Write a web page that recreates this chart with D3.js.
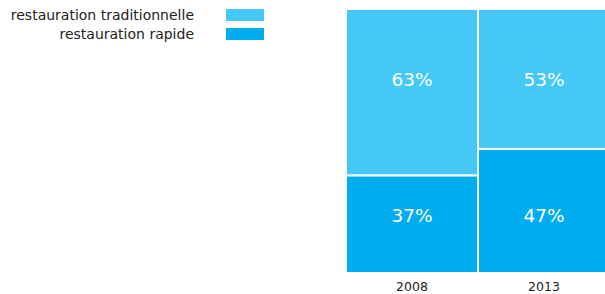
<!DOCTYPE html>
<html>
<head>
<meta charset="utf-8">
<script src="https://cdn.jsdelivr.net/npm/d3@7"></script>
<style>
  body { margin: 0; background: #fff; overflow: hidden; }
  svg { display: block; font-family: "DejaVu Sans", Verdana, sans-serif; }
</style>
</head>
<body>
<svg id="vis" width="605" height="294"></svg>
<script>
const years = ["2008", "2013"];
const seriesNames = ["restauration traditionnelle", "restauration rapide"];
const traditionnelle = [63, 53];
const rapide = [37, 47];
const colors = ["#45c8f5", "#00adef"];

const svg = d3.select("#vis");
const margin = {top: 9, bottom: 21, left: 346};
const W = 605, H = 294;

// the right bar runs past the window edge in the reference; the white stroke makes the gap
const x = d3.scaleBand().domain(years).range([margin.left, 610]).paddingInner(0);
const y = d3.scaleLinear().domain([0, 100]).range([H - margin.bottom, margin.top]);

// stack: rapide at bottom, traditionnelle on top
const rows = years.map((yr, i) => ({year: yr, rapide: rapide[i], traditionnelle: traditionnelle[i]}));
const stack = d3.stack().keys(["rapide", "traditionnelle"])(rows);
const colorOf = {rapide: colors[1], traditionnelle: colors[0]};
// labels sit at one height per series, in value units
const labelAt = {rapide: 22, traditionnelle: 73.3};

stack.forEach(layer => {
  const g = svg.append("g");
  g.selectAll("rect").data(layer).join("rect")
    .attr("x", d => x(d.data.year))
    .attr("width", x.bandwidth())
    .attr("y", d => y(d[1]))
    .attr("height", d => y(d[0]) - y(d[1]))
    .attr("fill", colorOf[layer.key])
    .attr("stroke", "#fff")
    .attr("stroke-width", 2);
  g.selectAll("text").data(layer).join("text")
    .attr("x", d => x(d.data.year) + x.bandwidth() / 2)
    .attr("y", y(labelAt[layer.key]))
    .attr("dy", "0.36em")
    .attr("text-anchor", "middle")
    .attr("fill", "#fff")
    .attr("font-size", 18.5)
    .text(d => d.data[layer.key] + "%");
});

// year labels
const xAxis = svg.append("g")
  .attr("transform", `translate(0,${H - margin.bottom})`)
  .call(d3.axisBottom(x).tickSize(0).tickPadding(0));
xAxis.select(".domain").remove();
xAxis.selectAll("text")
  .attr("y", 18).attr("dy", 0)
  .attr("font-size", 12.5)
  .attr("font-family", "DejaVu Sans, Verdana, sans-serif")
  .attr("fill", "#222");

// legend
const legend = svg.append("g");
seriesNames.forEach((name, i) => {
  const yy = 15 + i * 19;
  legend.append("text")
    .attr("x", 194).attr("y", yy).attr("dy", "0.35em")
    .attr("text-anchor", "end").attr("font-size", 14).attr("fill", "#222")
    .text(name);
  legend.append("rect")
    .attr("x", 226).attr("y", yy - 6).attr("width", 38).attr("height", 12)
    .attr("fill", colors[i]);
});
</script>
</body>
</html>
